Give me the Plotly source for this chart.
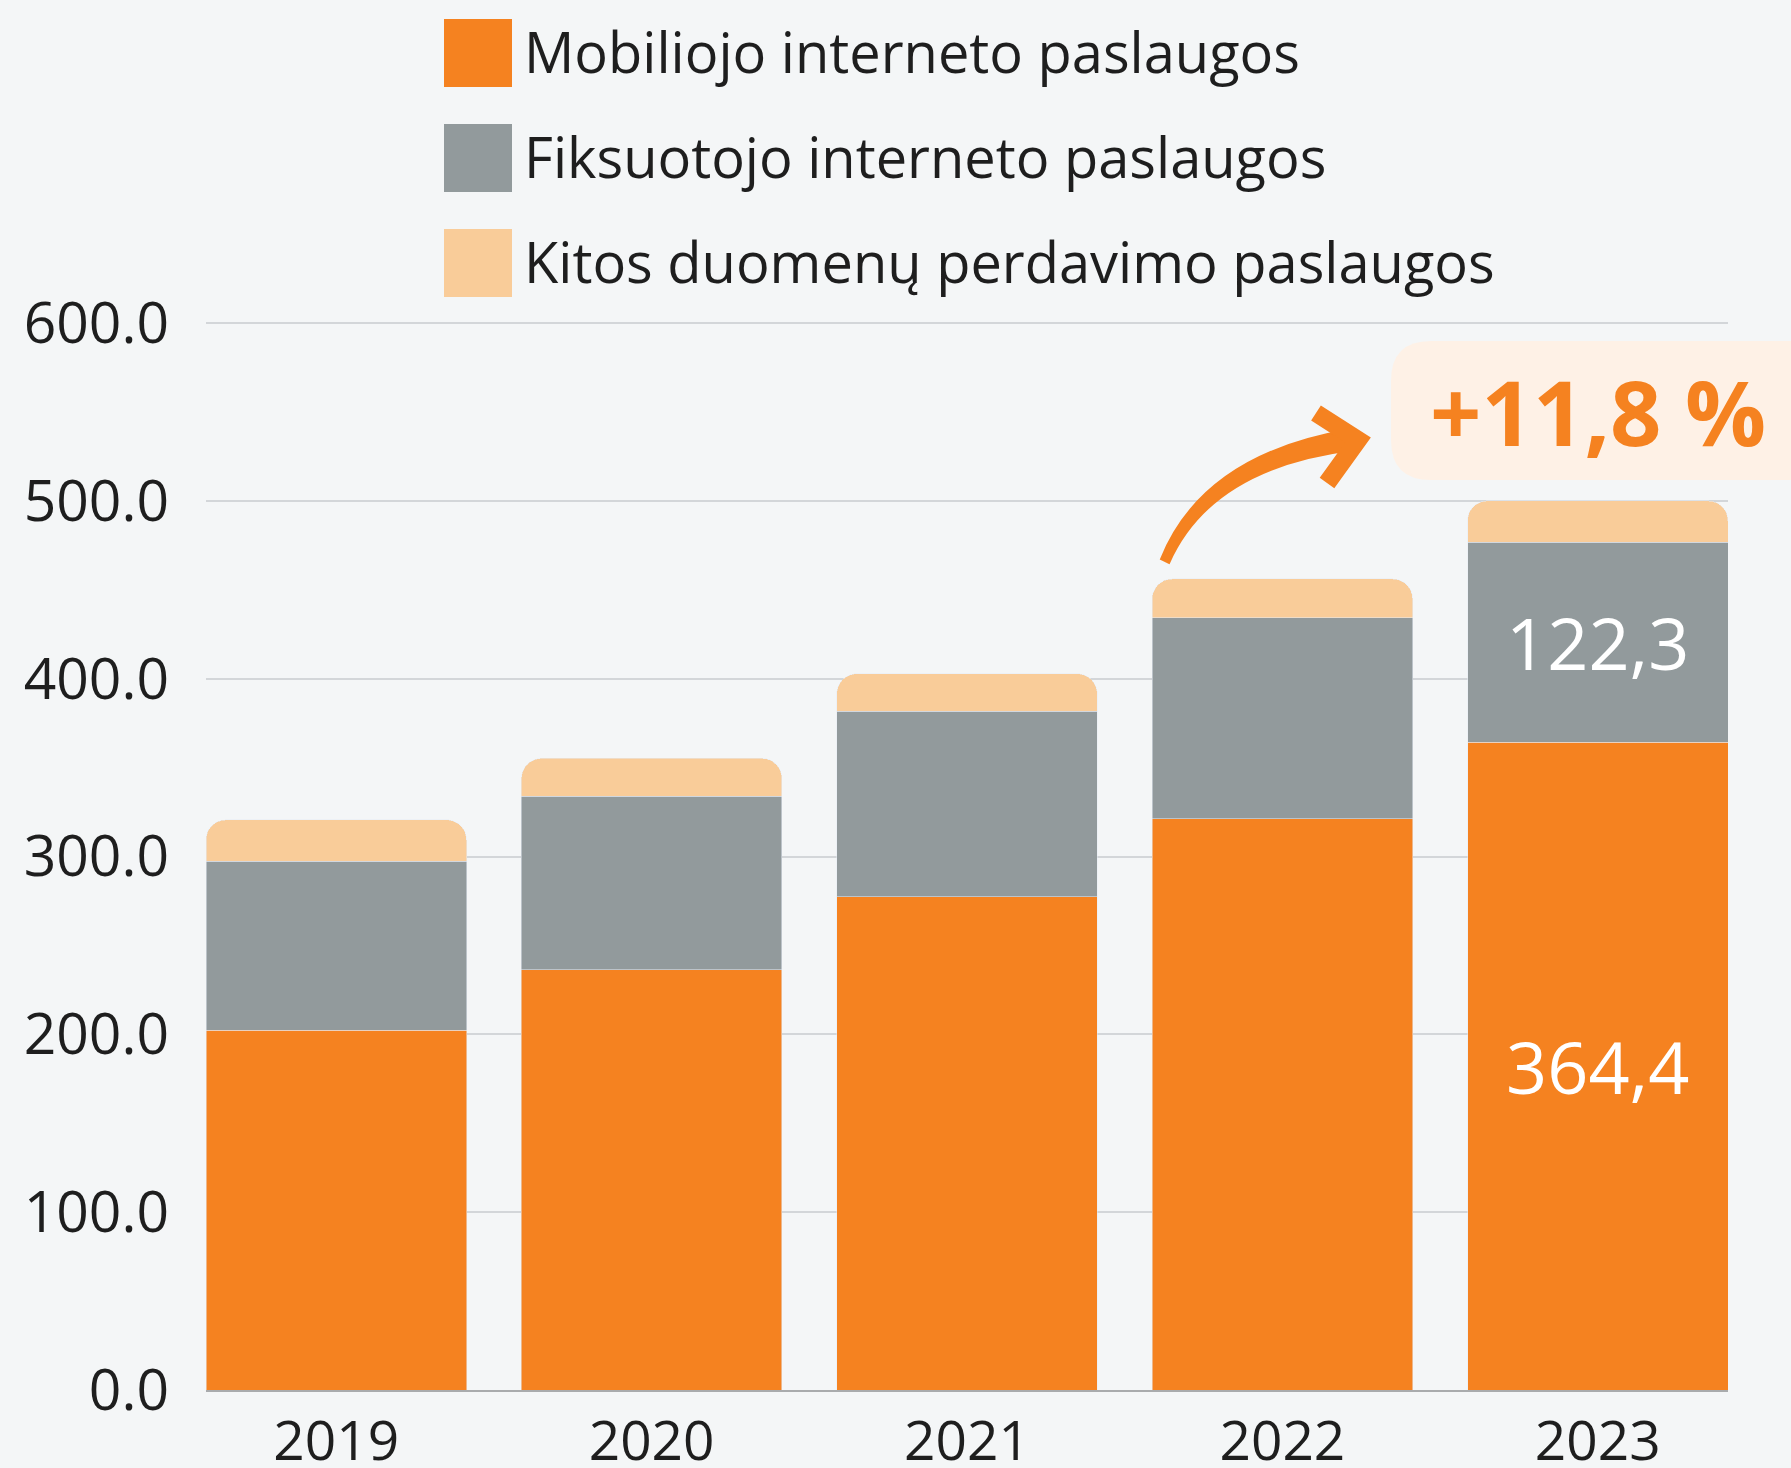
import plotly.graph_objects as go

years = ["2019", "2020", "2021", "2022", "2023"]
mobile = [202.4, 236.4, 277.5, 321.2, 364.4]
fixed = [95.0, 97.6, 104.1, 113.1, 112.3]
other = [23.2, 21.2, 21.2, 21.8, 23.3]
mobile_labels = ["", "", "", "", "364,4"]
fixed_labels = ["", "", "", "", "122,3"]
series_names = ["Mobiliojo interneto paslaugos", "Fiksuotojo interneto paslaugos",
                "Kitos duomenų perdavimo paslaugos"]
growth_label = "+11,8 %"

C_OR = "#F58220"
C_GR = "#929A9C"
C_PE = "#F9CC99"
BG = "#F4F6F7"
FONT = "Open Sans"

W, H = 1791, 1468
L, R, T, B = 206, 1728, 322, 1390
YMAX = 600.6


def px(x):
    return (x - L) / (R - L)


def py(y):
    return (B - y) / (B - T)


fig = go.Figure()
fig.add_bar(x=years, y=mobile, name=series_names[0], marker_color=C_OR,
            text=mobile_labels, textposition="inside", insidetextanchor="middle",
            textfont=dict(color="white", size=72, family=FONT), textangle=0)
fig.add_bar(x=years, y=fixed, name=series_names[1], marker_color=C_GR,
            text=fixed_labels, textposition="inside", insidetextanchor="middle",
            textfont=dict(color="white", size=72, family=FONT), textangle=0)
fig.add_bar(x=years, y=other, name=series_names[2], marker_color=C_PE)

shapes = []
annotations = []
# custom legend
leg_colors = [C_OR, C_GR, C_PE]
leg_rows = [53, 158, 263]
for name, col, yc in zip(series_names, leg_colors, leg_rows):
    shapes.append(dict(type="rect", xref="paper", yref="paper",
                       x0=px(444), x1=px(512), y0=py(yc - 34), y1=py(yc + 34),
                       fillcolor=col, line_width=0, layer="above"))
    annotations.append(dict(xref="paper", yref="paper", x=px(522), y=py(yc - 2),
                            xanchor="left", yanchor="middle", showarrow=False,
                            text=name, font=dict(size=56, family=FONT, color="#1E1E1E")))

# growth badge (rounded rectangle)
bx0, bx1, by0, by1, rr = 1391, 1830, 341, 480, 40
path = (f"M {px(bx0 + rr)},{py(by0)} L {px(bx1 - rr)},{py(by0)} "
        f"Q {px(bx1)},{py(by0)} {px(bx1)},{py(by0 + rr)} "
        f"L {px(bx1)},{py(by1 - rr)} Q {px(bx1)},{py(by1)} {px(bx1 - rr)},{py(by1)} "
        f"L {px(bx0 + rr)},{py(by1)} Q {px(bx0)},{py(by1)} {px(bx0)},{py(by1 - rr)} "
        f"L {px(bx0)},{py(by0 + rr)} Q {px(bx0)},{py(by0)} {px(bx0 + rr)},{py(by0)} Z")
shapes.append(dict(type="path", xref="paper", yref="paper", path=path,
                   fillcolor="#FEF1E6", line_width=0, layer="above"))
annotations.append(dict(xref="paper", yref="paper", x=px(1598), y=py(411),
                        xanchor="center", yanchor="middle", showarrow=False,
                        text=f"<b>{growth_label}</b>",
                        font=dict(size=90, family=FONT, color=C_OR)))

# curved arrow shaft (tapered)
shaft = (f"M {px(1161)},{py(559)} Q {px(1203)},{py(455)} {px(1348)},{py(430)} "
         f"L {px(1352)},{py(450)} Q {px(1211)},{py(468)} {px(1169)},{py(563)} Z")
shapes.append(dict(type="path", xref="paper", yref="paper", path=shaft,
                   fillcolor=C_OR, line=dict(color=C_OR, width=2), layer="above"))
head = f"M {px(1316)},{py(413)} L {px(1358)},{py(440)} L {px(1327)},{py(483)}"
shapes.append(dict(type="path", xref="paper", yref="paper", path=head,
                   line=dict(color=C_OR, width=18), layer="above"))

fig.update_layout(
    width=W, height=H,
    margin=dict(l=L, r=W - R, t=T, b=H - B, pad=0, autoexpand=False),
    barmode="stack", bargap=0.174, barcornerradius=20,
    paper_bgcolor=BG, plot_bgcolor=BG,
    showlegend=False,
    font=dict(family=FONT, size=57, color="#1E1E1E"),
    shapes=shapes, annotations=annotations,
    uniformtext=dict(mode=False),
)
fig.update_xaxes(type="category", range=[-0.413, 4.413], showgrid=False,
                 showline=True, linecolor="#A9ABAD", linewidth=2,
                 tickfont=dict(size=55, family=FONT, color="#1E1E1E"),
                 ticks="", ticklabelstandoff=2, automargin=False)
fig.update_yaxes(range=[0, YMAX], tickvals=[0, 100, 200, 300, 400, 500, 600],
                 tickformat=".1f",
                 showgrid=True, gridcolor="#D3D6D9", gridwidth=2,
                 zeroline=False, showline=False, ticks="",
                 tickfont=dict(size=57, family=FONT, color="#1E1E1E"),
                 ticklabelstandoff=36, automargin=False)

fig.write_html("out.html", config={"displayModeBar": False},
               post_script="document.body.style.margin='0';document.documentElement.style.overflow='hidden';")
